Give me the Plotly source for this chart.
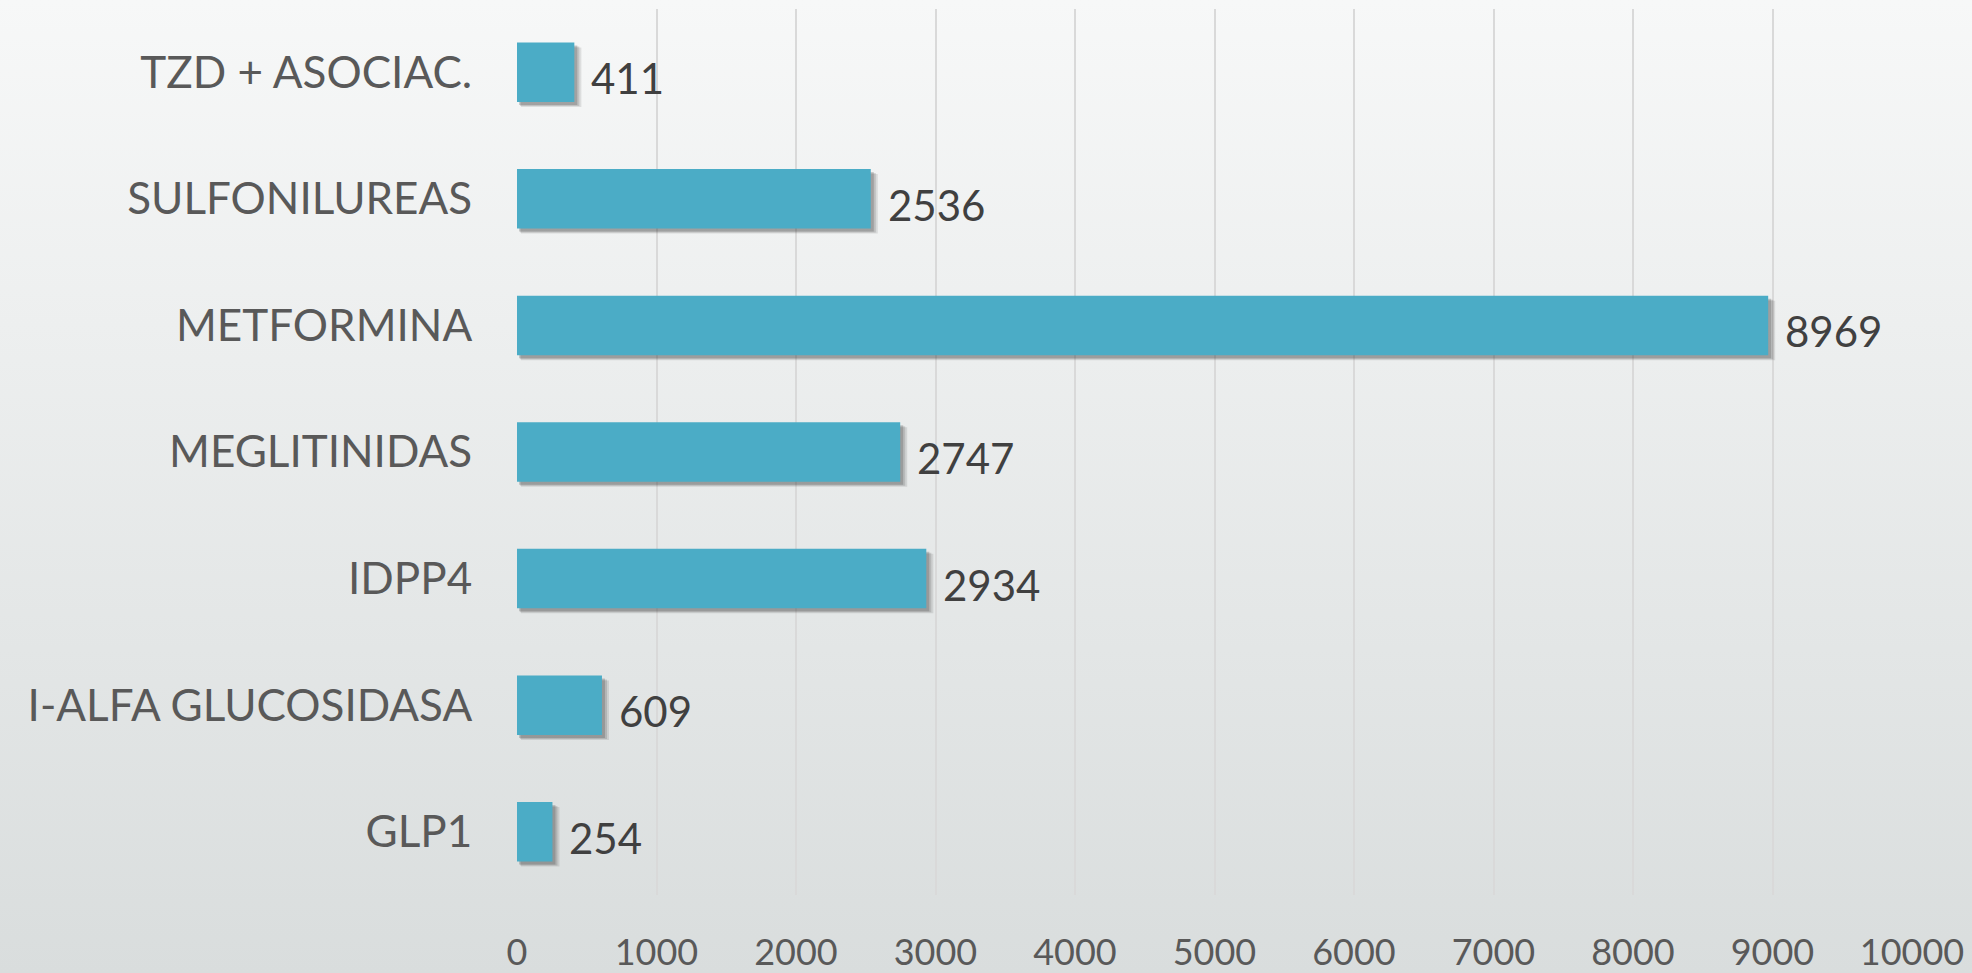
import base64
import plotly.graph_objects as go

# Prescriptions by drug group
categories = ["GLP1", "I-ALFA GLUCOSIDASA", "IDPP4", "MEGLITINIDAS",
              "METFORMINA", "SULFONILUREAS", "TZD + ASOCIAC."]
values = [254, 609, 2934, 2747, 8969, 2536, 411]
x_ticks = [0, 1000, 2000, 3000, 4000, 5000, 6000, 7000, 8000, 9000, 10000]

W, H = 1972, 973
ML, MR, MT, MB = 517, 60, 9, 78
PW, PH = W - ML - MR, H - MT - MB

BAR_COLOR = "#4BACC6"
FONT = "Lato"
BAR_W = 0.47

# Soft vertical gradient for the page background
svg = (
    '<svg xmlns="http://www.w3.org/2000/svg" width="100" height="100" preserveAspectRatio="none">'
    '<defs><linearGradient id="g" x1="0" y1="0" x2="0" y2="1">'
    '<stop offset="0" stop-color="#f7f8f8"/><stop offset="1" stop-color="#d9dddd"/>'
    '</linearGradient></defs><rect width="100" height="100" fill="url(#g)"/></svg>'
)
bg_uri = "data:image/svg+xml;base64," + base64.b64encode(svg.encode()).decode()

# One pixel expressed in data units on each axis
px_x = 10000 / PW
px_y = 7 / PH

fig = go.Figure()

# Layered drop shadow beneath each bar
for k, alpha in ((4, 0.12), (3, 0.16), (2, 0.22)):
    fig.add_trace(go.Bar(
        y=categories, x=[v + (k - 1) * px_x for v in values], base=[k * px_x] * len(values),
        orientation="h", width=BAR_W, offset=-BAR_W / 2 - (k + 1) * px_y,
        marker=dict(color=f"rgba(50,50,50,{alpha})", line=dict(width=0)),
        hoverinfo="skip", showlegend=False,
    ))
fig.add_trace(go.Bar(
    y=categories, x=values, orientation="h", width=BAR_W, offset=-BAR_W / 2,
    marker=dict(color=BAR_COLOR, line=dict(width=0)),
    showlegend=False,
))

for cat, val in zip(categories, values):
    fig.add_annotation(
        x=val, y=cat, text=str(val), showarrow=False,
        xanchor="left", yanchor="middle", xshift=15, yshift=-6,
        font=dict(family=FONT, size=42, color="#404040"),
    )

fig.update_layout(
    width=W, height=H,
    margin=dict(l=ML, r=MR, t=MT, b=MB, pad=0),
    paper_bgcolor="rgba(0,0,0,0)",
    plot_bgcolor="rgba(0,0,0,0)",
    barmode="overlay",
    font=dict(family=FONT, color="#595959"),
    images=[dict(
        source=bg_uri, xref="paper", yref="paper",
        x=-ML / PW, y=1 + MT / PH, sizex=W / PW, sizey=H / PH,
        xanchor="left", yanchor="top", sizing="stretch", layer="below",
    )],
    xaxis=dict(
        range=[0, 10000], tickvals=x_ticks, ticktext=[str(t) for t in x_ticks],
        showgrid=True, gridcolor="#d9d9d9", gridwidth=2,
        zeroline=False, showline=False, automargin=False,
        ticks="outside", ticklen=26, tickcolor="rgba(0,0,0,0)",
        tickfont=dict(family=FONT, size=36, color="#595959"),
    ),
    yaxis=dict(
        categoryorder="array", categoryarray=categories,
        range=[-0.5, 6.5], showgrid=False, zeroline=False, showline=False,
        automargin=False,
        ticks="outside", ticklen=35, tickcolor="rgba(0,0,0,0)",
        tickfont=dict(family=FONT, size=44, color="#595959"),
    ),
)

fig.write_html("out.html")
